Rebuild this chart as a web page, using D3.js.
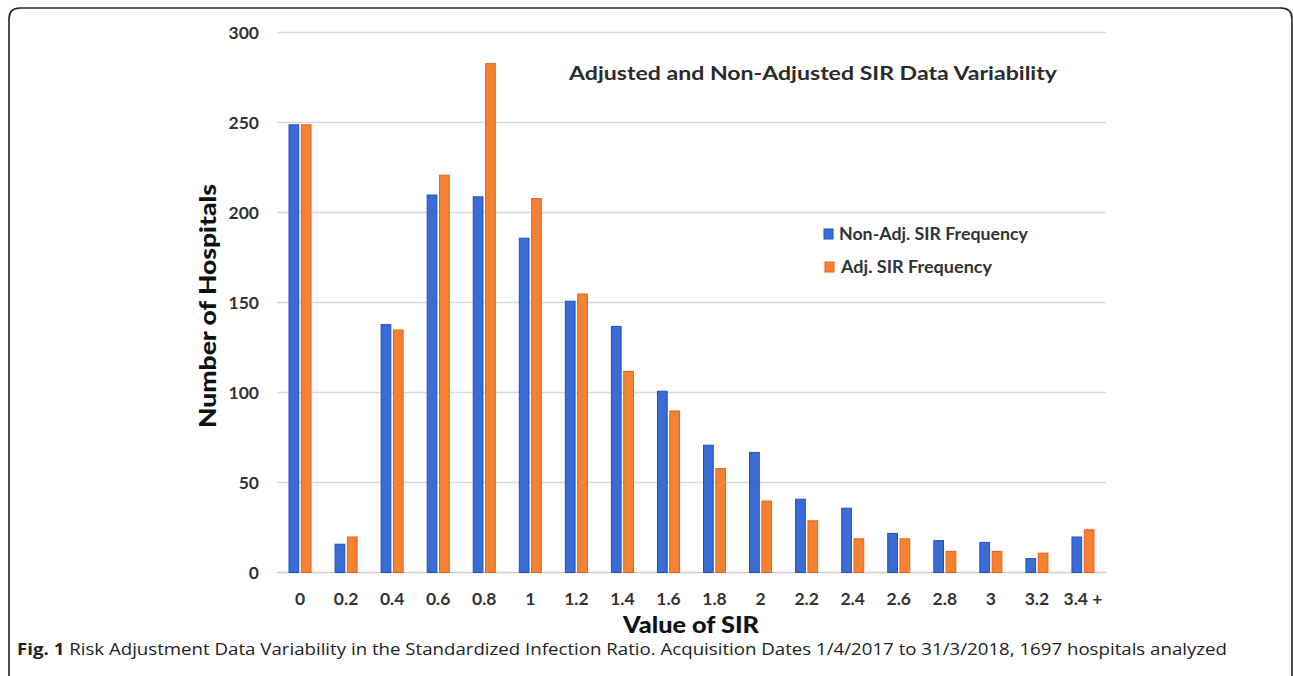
<!DOCTYPE html>
<html><head><meta charset="utf-8">
<script src="https://cdn.jsdelivr.net/npm/d3@7/dist/d3.min.js"></script>
<style>body{margin:0;background:#fff}svg{display:block}</style>
</head><body><svg id="c" width="1293" height="676"></svg>
<script>
const categories = ["0","0.2","0.4","0.6","0.8","1","1.2","1.4","1.6","1.8","2","2.2","2.4","2.6","2.8","3","3.2","3.4 +"];
const nonAdj = [249,16,138,210,209,186,151,137,101,71,67,41,36,22,18,17,8,20];
const adj    = [249,20,135,221,283,208,155,112,90,58,40,29,19,19,12,12,11,24];
const seriesNames = ["Non-Adj. SIR Frequency","Adj. SIR Frequency"];
const yTicks = [0,50,100,150,200,250,300];

const svg = d3.select("#c");
const fills = ["#3a6cd4","#f48230"];
const strokes = ["#1f4fc6","#f25c1e"];

// frame
svg.append("path").attr("d","M9,690 L9,19 Q9,8 20,8 L1281,8 Q1292,8 1292,19 L1292,690")
  .attr("fill","none").attr("stroke","#222").attr("stroke-width",1.6);

const x0 = d3.scaleBand().domain(categories).range([277,1106]).paddingInner(0.5).paddingOuter(0.25);
const x1 = d3.scaleBand().domain([0,1]).range([0,x0.bandwidth()]).paddingInner(0.13);
const y = d3.scaleLinear().domain([0,300]).range([572.5,32.5]);

// grid
svg.append("g").selectAll("line").data(yTicks).join("line")
  .attr("x1",277).attr("x2",1106).attr("y1",d=>y(d)).attr("y2",d=>y(d))
  .attr("stroke",d=>d===0?"#cfcfcf":"#d9d9d9").attr("stroke-width",1.4);

// y axis labels
const yAxis = d3.axisLeft(y).tickValues(yTicks).tickSize(0).tickPadding(0);
const gy = svg.append("g").attr("transform","translate(259,0)").call(yAxis);
gy.select(".domain").remove();
gy.selectAll("text").attr("font-family","Lato, 'Open Sans', sans-serif").attr("font-weight","700")
  .attr("font-size","17.5px").attr("fill","#333").attr("dy","0.35em");

// x axis labels
const xAxis = d3.axisBottom(x0).tickSize(0).tickPadding(0);
const gx = svg.append("g").attr("transform","translate(0,593)").call(xAxis);
gx.select(".domain").remove();
gx.selectAll("text").attr("font-family","Lato, 'Open Sans', sans-serif").attr("font-weight","700")
  .attr("font-size","17.5px").attr("fill","#333");

// bars
const data = categories.map((c,i)=>({c, v:[nonAdj[i],adj[i]]}));
const groups = svg.append("g").selectAll("g").data(data).join("g")
  .attr("transform",d=>`translate(${x0(d.c)},0)`);
groups.selectAll("rect").data(d=>d.v.map((v,k)=>({v,k}))).join("rect")
  .attr("x",d=>x1(d.k)+0.5).attr("width",x1.bandwidth()-1)
  .attr("y",d=>y(d.v)+0.5).attr("height",d=>y(0)-y(d.v)-0.5)
  .attr("fill",d=>fills[d.k]).attr("stroke",d=>strokes[d.k]).attr("stroke-width",1);

// title
svg.append("text").attr("x",569).attr("y",80).text("Adjusted and Non-Adjusted SIR Data Variability")
  .attr("font-family","Lato, 'Open Sans', sans-serif").attr("font-weight","700").attr("font-size","19.5px")
  .attr("fill","#2b2b2b").attr("textLength",488).attr("lengthAdjust","spacingAndGlyphs");

// legend
const lg = svg.append("g");
const legY = [234,267];
seriesNames.forEach((n,k)=>{
  lg.append("rect").attr("x",824+k).attr("y",legY[k]-5).attr("width",9).attr("height",10)
    .attr("fill",fills[k]).attr("stroke",strokes[k]).attr("stroke-width",1);
  lg.append("text").attr("x",839+k*2).attr("y",legY[k]).attr("dy","0.35em").text(n)
    .attr("font-family","Lato, 'Open Sans', sans-serif").attr("font-weight","700").attr("font-size","16.5px")
    .attr("fill","#333").attr("textLength",k?151:189).attr("lengthAdjust","spacingAndGlyphs");
});

// axis titles
svg.append("text").attr("transform","translate(216,306) rotate(-90)").attr("text-anchor","middle")
  .text("Number of Hospitals").attr("font-family","Lato, 'Open Sans', sans-serif").attr("font-weight","900")
  .attr("font-size","22px").attr("fill","#111").attr("textLength",244).attr("lengthAdjust","spacingAndGlyphs");
svg.append("text").attr("x",691).attr("y",633).attr("text-anchor","middle").text("Value of SIR")
  .attr("font-family","Lato, 'Open Sans', sans-serif").attr("font-weight","900")
  .attr("font-size","23px").attr("fill","#111").attr("textLength",136).attr("lengthAdjust","spacingAndGlyphs");

// caption
const cap = svg.append("text").attr("x",17).attr("y",655)
  .attr("font-family","'Open Sans', sans-serif").attr("font-size","16.5px").attr("fill","#222");
cap.append("tspan").attr("font-weight","700").text("Fig. 1");
cap.append("tspan").text(" Risk Adjustment Data Variability in the Standardized Infection Ratio. Acquisition Dates 1/4/2017 to 31/3/2018, 1697 hospitals analyzed");
cap.attr("textLength",1210).attr("lengthAdjust","spacingAndGlyphs");
</script></body></html>
